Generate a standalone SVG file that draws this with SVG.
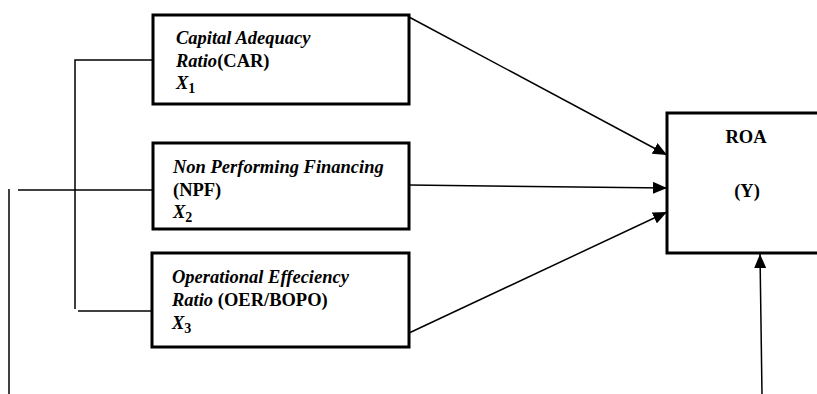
<svg xmlns="http://www.w3.org/2000/svg" width="817" height="394" viewBox="0 0 817 394">
<style>
.box{fill:#fff;stroke:#000;stroke-width:3}
.ln{fill:none;stroke:#000;stroke-width:1.5}
.t{font-family:"Liberation Serif","Times New Roman",serif;font-size:18.5px;font-weight:bold;fill:#000}
.i{font-style:italic}
.sub{font-size:14px;font-style:normal}
</style>
<defs>
<marker id="ah" markerWidth="14" markerHeight="12" refX="14" refY="6" orient="auto" markerUnits="userSpaceOnUse">
<path d="M0,0 L14,6 L0,12 Z" fill="#000"/>
</marker>
</defs>
<rect width="817" height="394" fill="#fff"/>
<g id="connectors">
<polyline class="ln" points="153,60 75,60 75,309"/>
<line class="ln" x1="18" y1="190" x2="153" y2="190" stroke-width="2"/>
<line class="ln" x1="78" y1="311" x2="153" y2="311"/>
<line class="ln" x1="9" y1="189" x2="9" y2="394"/>
<line class="ln" x1="409" y1="17" x2="667" y2="155" marker-end="url(#ah)"/>
<line class="ln" x1="409" y1="185" x2="667" y2="188" marker-end="url(#ah)"/>
<line class="ln" x1="409" y1="333" x2="667" y2="212" marker-end="url(#ah)"/>
<line class="ln" x1="762" y1="394" x2="760" y2="254" marker-end="url(#ah)"/>
</g>
<g id="car">
<rect class="box" x="153" y="15" width="256" height="89"/>
<text class="t i" x="176" y="44">Capital Adequacy</text>
<text class="t" x="176" y="67"><tspan class="i">Ratio</tspan>(CAR)</text>
<text class="t i" x="176" y="89">X<tspan class="sub" dy="4">1</tspan></text>
</g>
<g id="npf">
<rect class="box" x="153" y="143" width="256" height="86"/>
<text class="t i" x="173" y="173">Non Performing Financing</text>
<text class="t" x="173" y="196">(NPF)</text>
<text class="t i" x="173" y="218">X<tspan class="sub" dy="4">2</tspan></text>
</g>
<g id="oer">
<rect class="box" x="152" y="253" width="257" height="94"/>
<text class="t i" x="172" y="283">Operational Effeciency</text>
<text class="t" x="172" y="306"><tspan class="i">Ratio</tspan> (OER/BOPO)</text>
<text class="t i" x="172" y="329">X<tspan class="sub" dy="4">3</tspan></text>
</g>
<g id="roa">
<rect class="box" x="667" y="113" width="155" height="140"/>
<text class="t" x="746" y="143" text-anchor="middle" font-size="17">ROA</text>
<text class="t" x="747" y="197" text-anchor="middle" font-size="17">(Y)</text>
</g>
</svg>
